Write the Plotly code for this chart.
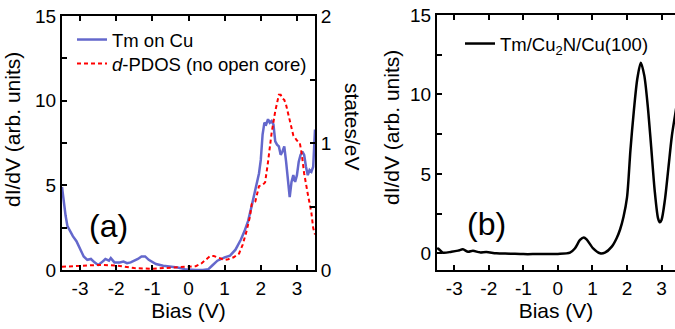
import plotly.graph_objects as go

# ---- Panel (a): Tm on Cu (dI/dV, left axis) ----
bias_a = [-3.5, -3.45, -3.4, -3.35, -3.3, -3.2, -3.1, -3.0, -2.9, -2.8, -2.7, -2.6, -2.5, -2.4,
          -2.3, -2.2, -2.15, -2.05, -1.9, -1.8, -1.7, -1.6, -1.5, -1.4, -1.3, -1.2, -1.1, -1.0,
          -0.9, -0.7, -0.5, -0.3, -0.1, 0.0, 0.2, 0.4, 0.55, 0.65, 0.8, 1.0, 1.15, 1.3, 1.45,
          1.55, 1.65, 1.75, 1.85, 1.95, 2.0, 2.05, 2.1, 2.15, 2.2, 2.25, 2.3, 2.35, 2.4, 2.45,
          2.5, 2.55, 2.6, 2.65, 2.7, 2.75, 2.8, 2.85, 2.9, 2.95, 3.0, 3.05, 3.1, 3.15, 3.2,
          3.25, 3.3, 3.35, 3.4, 3.45, 3.48, 3.5]
didv_a = [4.9, 4.0, 3.2, 2.6, 2.4, 2.0, 1.7, 1.2, 0.8, 0.6, 0.65, 0.45, 0.3, 0.45,
          0.65, 0.55, 0.7, 0.45, 0.45, 0.5, 0.4, 0.45, 0.55, 0.65, 0.8, 0.8, 0.6, 0.45,
          0.35, 0.25, 0.2, 0.15, 0.05, 0.02, 0.0, 0.0, 0.05, 0.25, 0.55, 0.75, 0.85, 1.2, 1.8,
          2.3, 2.9, 3.8, 4.8, 5.7, 6.5, 8.0, 8.7, 8.6, 8.9, 8.7, 8.8, 8.6, 7.6, 7.4,
          7.3, 6.8, 7.0, 7.3, 6.4, 5.4, 4.3, 5.2, 5.6, 5.2, 5.6, 6.4, 6.8, 7.0, 6.8,
          6.1, 5.6, 5.9, 5.8, 6.1, 7.5, 8.3]

# ---- Panel (a): d-PDOS (states/eV, right axis) ----
bias_pdos = [-3.5, -3.0, -2.5, -2.0, -1.5, -1.0, -0.5, 0.0, 0.2, 0.35, 0.5, 0.6, 0.7, 0.8,
             0.9, 1.0, 1.1, 1.25, 1.4, 1.5, 1.6, 1.7, 1.75, 1.85, 1.9, 1.95, 2.05, 2.12,
             2.2, 2.3, 2.4, 2.5, 2.55, 2.6, 2.65, 2.7, 2.8, 2.9, 3.0, 3.08, 3.13, 3.2,
             3.3, 3.4, 3.45, 3.5]
pdos = [0.025, 0.03, 0.04, 0.035, 0.015, 0.01, 0.02, 0.03, 0.03, 0.05, 0.09, 0.11, 0.11, 0.10,
        0.085, 0.08, 0.085, 0.10, 0.13, 0.20, 0.30, 0.42, 0.52, 0.54, 0.60, 0.66, 0.67, 0.69,
        0.85, 1.08, 1.25, 1.38, 1.38, 1.35, 1.34, 1.30, 1.18, 1.06, 1.02, 1.0, 0.92, 0.76,
        0.60, 0.45, 0.33, 0.28]

# ---- Panel (b): Tm/Cu2N/Cu(100) ----
bias_b = [-3.5, -3.47, -3.33, -3.08, -2.89, -2.75, -2.6, -2.46, -2.26, -2.07, -1.78, -1.39,
          -1.0, -0.62, -0.3, 0.0, 0.35, 0.49, 0.64, 0.75, 0.83, 1.02, 1.22, 1.36, 1.56, 1.7,
          1.8, 1.9, 2.0, 2.1, 2.2, 2.3, 2.4, 2.5, 2.6, 2.7, 2.8, 2.9, 2.95, 3.0, 3.1, 3.2,
          3.3, 3.4, 3.5]
didv_b = [0.25, 0.3, 0.04, 0.1, 0.17, 0.25, 0.1, 0.16, 0.06, 0.08, 0.0, -0.02,
          -0.05, -0.05, -0.05, -0.04, 0.04, 0.3, 0.84, 1.0, 0.88, 0.31, 0.0, 0.04, 0.42, 0.95,
          1.5, 2.3, 3.5, 6.5, 9.0, 11.0, 12.0, 11.2, 9.3, 6.7, 4.0, 2.2, 1.95, 2.1, 3.4, 5.4,
          7.4, 8.8, 10.2]

# ---- tick labels ----
x_tickvals = [-3, -2, -1, 0, 1, 2, 3]
x_ticktext = ["-3", "-2", "-1", "0", "1", "2", "3"]
y_tickvals = [0, 5, 10, 15]
y_ticktext = ["0", "5", "10", "15"]
y2_tickvals = [0, 1, 2]
y2_ticktext = ["0", "1", "2"]

FONT = "Liberation Sans, Arial, sans-serif"
W, H = 675, 329

def py(p):
    return 1 - p / H

def px(p):
    return p / W

fig = go.Figure()
fig.add_trace(go.Scatter(x=bias_a, y=didv_a, mode="lines", name="Tm on Cu",
                         line=dict(color="#6468CC", width=2.5), xaxis="x", yaxis="y",
                         legend="legend"))
fig.add_trace(go.Scatter(x=bias_pdos, y=pdos, mode="lines",
                         name="<i>d</i>-PDOS (no open core)",
                         line=dict(color="#FF0000", width=2, dash="4px,3px"),
                         xaxis="x", yaxis="y2", legend="legend3"))
fig.add_trace(go.Scatter(x=bias_b, y=didv_b, mode="lines", name="Tm/Cu<sub>2</sub>N/Cu(100)",
                         line=dict(color="black", width=2.5, shape="spline", smoothing=0.8),
                         xaxis="x2", yaxis="y3", legend="legend2"))

tickfont = dict(family=FONT, size=19, color="black")
common_ax = dict(showgrid=False, zeroline=False, linecolor="black", linewidth=2,
                 ticks="inside", ticklen=5, tickwidth=1.5, tickcolor="black",
                 tickfont=tickfont, automargin=False)
minor_style = dict(ticks="inside", ticklen=5, tickwidth=1.5, tickcolor="black")
legend_style = dict(xanchor="left", yanchor="top", bgcolor="rgba(0,0,0,0)", borderwidth=0,
                    font=dict(family=FONT, size=18.5, color="black"))

fig.update_layout(
    width=W, height=H,
    margin=dict(l=0, r=0, t=0, b=0),
    paper_bgcolor="white", plot_bgcolor="white",
    font=dict(family=FONT, color="black"),
    showlegend=True,
    xaxis=dict(domain=[px(62), px(315)], range=[-3.5, 3.5],
               tickmode="array", tickvals=x_tickvals, ticktext=x_ticktext,
               mirror="ticks", showline=True, anchor="y",
               title=dict(text="Bias (V)", font=dict(family=FONT, size=21), standoff=6),
               **common_ax),
    yaxis=dict(domain=[py(270), py(16)], range=[0, 15],
               tickmode="array", tickvals=y_tickvals, ticktext=y_ticktext,
               showline=True, anchor="x",
               minor=dict(tickmode="linear", tick0=0, dtick=2.5, **minor_style),
               **common_ax),
    yaxis2=dict(overlaying="y", side="right", range=[0, 2],
                tickmode="array", tickvals=y2_tickvals, ticktext=y2_ticktext,
                showline=True, anchor="x",
                minor=dict(tickmode="linear", tick0=0, dtick=0.5, **minor_style),
                **common_ax),
    xaxis2=dict(domain=[px(437), 1.0], range=[-3.5, 3.39],
                tickmode="array", tickvals=x_tickvals, ticktext=x_ticktext,
                mirror="ticks", showline=True, anchor="y3",
                title=dict(text="Bias (V)", font=dict(family=FONT, size=21), standoff=6),
                **common_ax),
    yaxis3=dict(domain=[py(270), py(15)], range=[-1.05, 15],
                tickmode="array", tickvals=y_tickvals, ticktext=y_ticktext,
                showline=True, anchor="x2",
                minor=dict(tickmode="linear", tick0=0, dtick=2.5, **minor_style),
                **common_ax),
    yaxis4=dict(overlaying="y3", side="right", range=[-1.05, 15],
                tickmode="array", tickvals=y_tickvals, ticktext=y_ticktext,
                showline=False, showticklabels=False, anchor="x2",
                showgrid=False, zeroline=False, ticks="inside", ticklen=5, tickwidth=1.5,
                tickcolor="black", automargin=False),
    legend=dict(x=px(72), y=py(21), **legend_style),
    legend3=dict(x=px(72), y=py(45), **legend_style),
    legend2=dict(x=px(460), y=py(25), **legend_style),
    annotations=[
        dict(text="dI/dV (arb. units)", textangle=-90, x=px(12), y=py(130),
             xref="paper", yref="paper", showarrow=False, xanchor="center", yanchor="middle",
             font=dict(family=FONT, size=21, color="black")),
        dict(text="states/eV", textangle=90, x=px(352), y=py(127),
             xref="paper", yref="paper", showarrow=False, xanchor="center", yanchor="middle",
             font=dict(family=FONT, size=21, color="black")),
        dict(text="dI/dV (arb. units)", textangle=-90, x=px(391), y=py(128),
             xref="paper", yref="paper", showarrow=False, xanchor="center", yanchor="middle",
             font=dict(family=FONT, size=21, color="black")),
        dict(text="(a)", x=px(108), y=py(226), xref="paper", yref="paper", showarrow=False,
             xanchor="center", yanchor="middle", font=dict(family=FONT, size=32, color="black")),
        dict(text="(b)", x=px(486), y=py(224), xref="paper", yref="paper", showarrow=False,
             xanchor="center", yanchor="middle", font=dict(family=FONT, size=32, color="black")),
    ],
)

fig.write_html("out.html")
